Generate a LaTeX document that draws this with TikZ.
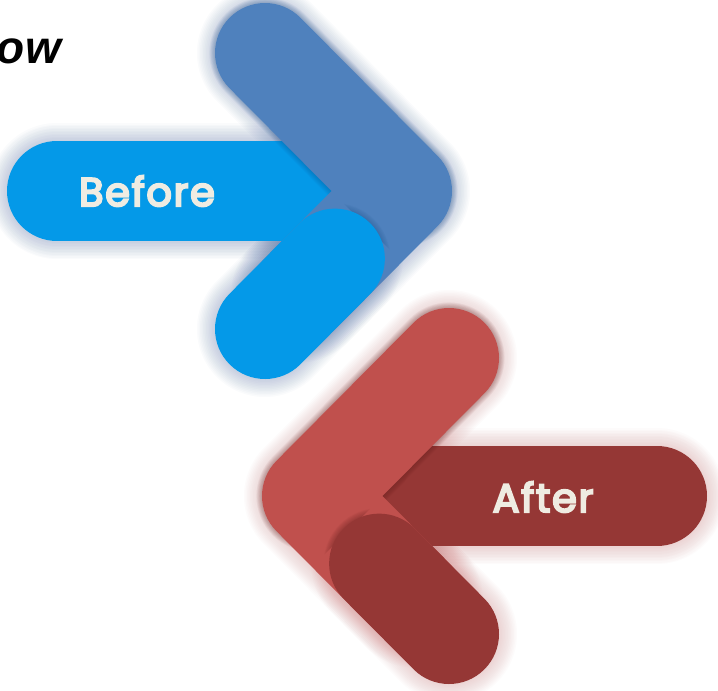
\documentclass[tikz,border=0pt]{standalone}
\usepackage{fontspec}
\newfontfamily\labelfont{Poppins}[FakeBold=5, LetterSpace=4]
\newfontfamily\headfont{Liberation Sans}
\usetikzlibrary{calc}
\definecolor{beforeBlue}{HTML}{0499E8}
\definecolor{beforeSteel}{HTML}{4F81BD}
\definecolor{afterRose}{HTML}{C0504D}
\definecolor{afterMaroon}{HTML}{953735}
\definecolor{labelCream}{HTML}{EFECE2}
\definecolor{shadeBlue}{HTML}{3A5A9A}
\definecolor{shadeRed}{HTML}{C86A6A}
\definecolor{foldBlue}{HTML}{1A4F8A}
\definecolor{foldRed}{HTML}{5A1A18}

\tikzset{
  band/.style={line width=100pt, line cap=round, line join=round},
  armlabel/.style={font=\labelfont\fontsize{40}{42}\selectfont, text=labelCream},
}
% soft shadow under one band
\newcommand{\bandshadow}[2]{%
  \foreach \k in {1,...,12}
    \draw[#1, line cap=round, line join=round, opacity=0.022,
          line width={(100+3*\k)*1pt}, shift={(2,9)}] #2;}
% narrow shade along a fold
\newcommand{\foldshadow}[3]{%
  \foreach \k in {1,...,8}
    \draw[#1, line cap=round, line join=round, opacity=0.045,
          line width={(100+1.4*\k)*1pt}, shift={#2}] #3;}

\begin{document}
\begin{tikzpicture}[x=1pt, y=-1pt]
  \useasboundingbox (0,0) rectangle (718,691);
  \fill[white] (0,0) rectangle (718,691);

  % Before arrow
  \coordinate (bTail) at (57,191);
  \coordinate (bStop) at (360,191);
  \coordinate (bTip) at (402,191);
  \coordinate (bTop) at (265,53);
  \coordinate (bFoot) at (265,329);
  \coordinate (bFold) at ($(bTip)!0.49!(bFoot)$);
  \coordinate (bLow) at ($(bTip)!0.75!(bFoot)$);

  \bandshadow{shadeBlue}{(bTail) -- (bStop)}
  \bandshadow{shadeBlue}{(bTop) -- (bTip) -- (bLow)}
  \bandshadow{shadeBlue}{(bFold) -- (bFoot)}
  \draw[band, beforeBlue] (bTail) -- (bStop);
  \foldshadow{foldBlue}{(-1,2)}{(bTop) -- (bTip)}
  \draw[band, beforeSteel] (bTop) -- (bTip) -- (bLow);
  \begin{scope}
    \clip (141,0) -- (500,0) -- (500,180) -- (410,270) -- cycle;
    \foldshadow{foldBlue}{(1,1)}{(bFold) -- (bFoot)}
  \end{scope}
  \draw[band, beforeBlue] (bFold) -- (bFoot);
  \node[armlabel] (before) at (147,191) {Before};

  % After arrow
  \coordinate (rTail) at (657,496);
  \coordinate (rStop) at (354,496);
  \coordinate (rTip) at (312,496);
  \coordinate (rTop) at (449,358);
  \coordinate (rFoot) at (449,634);
  \coordinate (rFold) at ($(rTip)!0.49!(rFoot)$);
  \coordinate (rLow) at ($(rTip)!0.75!(rFoot)$);

  \bandshadow{shadeRed}{(rTail) -- (rStop)}
  \bandshadow{shadeRed}{(rTop) -- (rTip) -- (rLow)}
  \bandshadow{shadeRed}{(rFold) -- (rFoot)}
  \draw[band, afterMaroon] (rTail) -- (rStop);
  \foldshadow{foldRed}{(1,2)}{(rTop) -- (rTip)}
  \draw[band, afterRose] (rTop) -- (rTip) -- (rLow);
  \begin{scope}
    \clip (573,305) -- (214,305) -- (214,485) -- (304,575) -- cycle;
    \foldshadow{foldRed}{(-1,1)}{(rFold) -- (rFoot)}
  \end{scope}
  \draw[band, afterMaroon] (rFold) -- (rFoot);
  \node[armlabel] (after) at (543,497) {After};

  % cut title
  \node[font=\headfont\bfseries\itshape\fontsize{46}{48}\selectfont,
        anchor=base east, inner sep=0pt] (title) at (61,63) {ow};
\end{tikzpicture}
\end{document}
